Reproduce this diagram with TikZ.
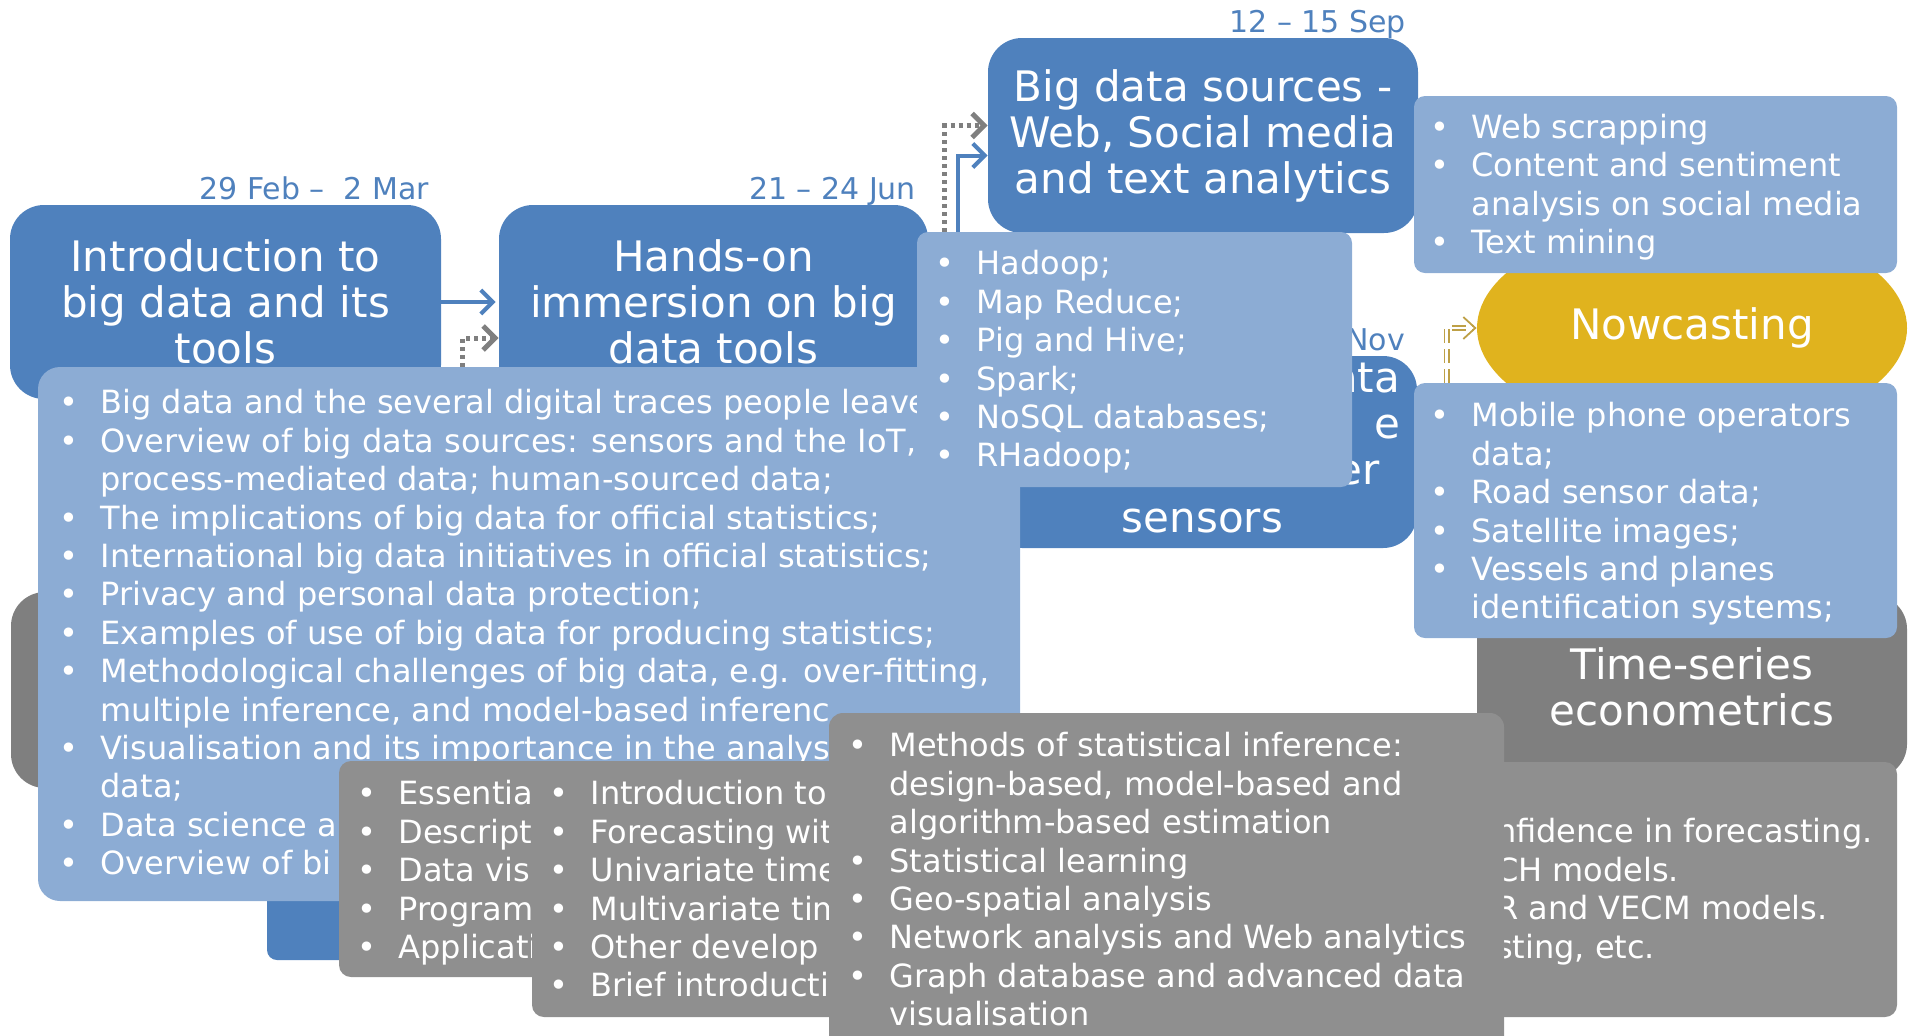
\documentclass[tikz,border=0pt]{standalone}
\usepackage{fontspec}
\setmainfont{DejaVu Sans}
\usetikzlibrary{fit,shapes.geometric,arrows.meta}

\definecolor{blueD}{RGB}{79,129,189}
\definecolor{blueL}{RGB}{140,172,212}
\definecolor{grayD}{RGB}{127,127,127}
\definecolor{grayM}{RGB}{143,143,143}
\definecolor{goldF}{RGB}{224,179,30}
\definecolor{goldL}{RGB}{190,160,70}

\newcommand{\listfont}{\fontsize{16pt}{19.2pt}\selectfont}
\newcommand{\titlefont}{\fontsize{21pt}{23pt}\selectfont}
\newcommand{\datefont}{\fontsize{15pt}{18pt}\selectfont}
\newcommand{\itm}[1]{\strut\makebox[20.5pt][l]{\textbullet}#1}
\newcommand{\cnt}[1]{\strut\makebox[20.5pt][l]{}#1}

\tikzset{
  titlebox/.style={rounded corners=17pt, inner sep=0pt, text=white, font=\titlefont, align=center},
  titletext/.style={inner sep=0pt, text=white, font=\titlefont},
  listbox/.style={rounded corners=5.5pt, inner sep=0pt},
  listtext/.style={anchor=north west, inner sep=0pt, text=white, font=\listfont, align=left},
  datelbl/.style={anchor=base east, inner sep=0pt, text=blueD, font=\datefont},
  bluearrow/.style={draw=blueD, line width=2pt, -{Straight Barb[length=6pt,width=12pt]}},
  grayarrow/.style={draw=grayD, line width=2.5pt, dash pattern=on 2pt off 2pt, -{Straight Barb[length=6pt,width=12pt]}},
  goldarrow/.style={draw=goldL, double=white, double distance=1.2pt, line width=0.9pt, dash pattern=on 7pt off 3pt, -{Straight Barb[length=6pt,width=11pt]}}
}

\begin{document}
\begin{tikzpicture}[x=0.5pt, y=-0.5pt]
  \newcommand{\biground}{11pt}
  \useasboundingbox (0,0) rectangle (1911,1035);

  % Draw title boxes of the first modules
  \node[titlebox, fill=blueD, minimum width=215.5pt, minimum height=97pt] (intro) at (225.5,302) {Introduction to\\big data and its\\tools};
  \node[titlebox, fill=blueD, minimum width=214.5pt, minimum height=97pt] (hands) at (713.5,302) {Hands-on\\immersion on big\\data tools};
  \node[titlebox, fill=blueD, minimum width=215pt, minimum height=97.5pt] (websrc) at (1203,135.5) {Big data sources -\\Web, Social media\\and text analytics};

  % Draw dates
  \foreach \nd/\dt in {intro/{29 Feb –~ 2 Mar}, hands/{21 – 24 Jun}, websrc/{12 – 15 Sep}} {
    \node[datelbl] (date\nd) at ([shift={(-12,-5)}]\nd.north east) {\dt};
  }
  \draw[bluearrow, shorten >=1.5pt] (intro.east) -- (hands.west);

  % Draw title boxes behind the lists
  \node[titlebox, fill=grayD, minimum width=215pt, minimum height=98pt] (stats) at (226,690) {};
  \node[titlebox, fill=blueD, rounded corners=5pt, minimum width=126.5pt, minimum height=50pt] (lastmod) at (393.5,910) {};
  \node[titlebox, fill=blueD, minimum width=214.5pt, minimum height=96pt] (mobsrc) at (1202.5,452) {};
  \node[titletext, anchor=north east, align=right] (mobfrag) at ([shift={(-17,4)}]mobsrc.north east) {\strut ata\\e\hspace*{3.5pt}\\er\hspace*{10pt}};
  \node[titletext, anchor=base] (mobsens) at ([yshift=8pt]mobsrc.south) {sensors};
  \node[datelbl] (datemob) at ([shift={(-12,-5)}]mobsrc.north east) {Nov};

  % Draw content of the introduction
  \node[listbox, fill=blueL, rounded corners=\biground, fit={(38,367) (1020,901)}] (introlist) {};
  \node[listtext] (introtxt) at ([shift={(21.6,20)}]introlist.north west) {\itm{Big data and the several digital traces people leave}\\
    \itm{Overview of big data sources: sensors and the IoT,}\\
    \cnt{process-mediated data; human-sourced data;}\\
    \itm{The implications of big data for official statistics;}\\
    \itm{International big data initiatives in official statistics;}\\
    \itm{Privacy and personal data protection;}\\
    \itm{Examples of use of big data for producing statistics;}\\
    \itm{Methodological challenges of big data, e.g. over-fitting,}\\
    \cnt{multiple inference, and model-based inferenc}\\
    \itm{Visualisation and its importance in the analys}\\
    \cnt{data;}\\
    \itm{Data science a}\\
    \itm{Overview of bi}};
  \draw[grayarrow] ([xshift=212.5pt]introlist.north west) |- ([yshift=-18pt]hands.west);

  % Draw content of the hands-on module
  \node[listbox, fill=blueL, fit={(917,232) (1352,487)}] (toollist) {};
  \node[listtext] (tooltxt) at ([shift={(18.6,16)}]toollist.north west) {\itm{Hadoop;}\\
    \itm{Map Reduce;}\\
    \itm{Pig and Hive;}\\
    \itm{Spark;}\\
    \itm{NoSQL databases;}\\
    \itm{RHadoop;}};
  \draw[grayarrow] ([xshift=14pt]toollist.north west) |- ([yshift=5pt]websrc.west);
  \draw[bluearrow] ([xshift=20.5pt]toollist.north west) |- ([yshift=-10pt]websrc.west);

  % Draw nowcasting
  \node[ellipse, fill=goldF, minimum width=215pt, minimum height=109pt, inner sep=0pt, text=white, font=\titlefont] (nowc) at (1692,328) {Nowcasting};

  \node[listbox, fill=blueL, fit={(1414,96) (1897,273)}] (weblist) {};
  \node[listtext] (webtxt) at ([shift={(16.6,15.5)}]weblist.north west) {\itm{Web scrapping}\\
    \itm{Content and sentiment}\\
    \cnt{analysis on social media}\\
    \itm{Text mining}};

  \node[titlebox, fill=grayD, minimum width=215pt, minimum height=91.5pt] (timeser) at (1692,686.5) {Time-series\\econometrics};

  \node[listbox, fill=blueL, fit={(1414,383) (1897,638)}] (moblist) {};
  \node[listtext] (mobtxt) at ([shift={(16.6,17)}]moblist.north west) {\itm{Mobile phone operators}\\
    \cnt{data;}\\
    \itm{Road sensor data;}\\
    \itm{Satellite images;}\\
    \itm{Vessels and planes}\\
    \cnt{identification systems;}};
  \draw[goldarrow] ([xshift=16.5pt]moblist.north west) |- (nowc.west);

  % Draw gray lists of the statistics modules
  \node[listbox, fill=grayM, rounded corners=6pt, fit={(1350,762) (1897,1017)}] (tslist) {};
  \node[listtext] (tstxt) at ([shift={(146,54)}]tslist.north west) {\strut nfidence in forecasting.\\
    \strut CH models.\\
    \strut R and VECM models.\\
    \strut sting, etc.};

  \node[listbox, fill=grayM, rounded corners=6pt, fit={(339,761) (560,977)}] (esslist) {};
  \node[listtext] (esstxt) at ([shift={(18.6,17)}]esslist.north west) {\itm{Essentia}\\
    \itm{Descript}\\
    \itm{Data vis}\\
    \itm{Program}\\
    \itm{Applicati}};

  \node[listbox, fill=grayM, rounded corners=6pt, fit={(532,761) (860,1017)}] (fcstlist) {};
  \node[listtext] (fcsttxt) at ([shift={(17.6,17)}]fcstlist.north west) {\itm{Introduction to}\\
    \itm{Forecasting wit}\\
    \itm{Univariate time}\\
    \itm{Multivariate tim}\\
    \itm{Other develop}\\
    \itm{Brief introducti}};

  \node[listbox, fill=grayM, rounded corners=7pt, fit={(829,713) (1504,1050)}] (methlist) {};
  \node[listtext] (methtxt) at ([shift={(19.6,17)}]methlist.north west) {\itm{Methods of statistical inference:}\\
    \cnt{design-based, model-based and}\\
    \cnt{algorithm-based estimation}\\
    \itm{Statistical learning}\\
    \itm{Geo-spatial analysis}\\
    \itm{Network analysis and Web analytics}\\
    \itm{Graph database and advanced data}\\
    \cnt{visualisation}};
\end{tikzpicture}
\end{document}
